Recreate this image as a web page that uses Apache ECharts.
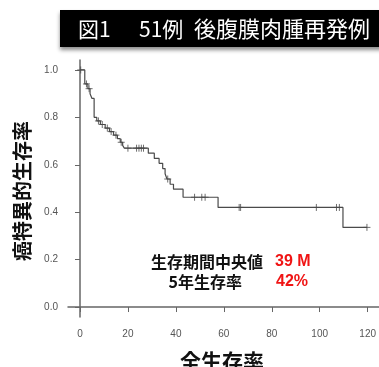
<!DOCTYPE html>
<html>
<head>
<meta charset="utf-8">
<script src="https://cdn.jsdelivr.net/npm/echarts@6/dist/echarts.min.js"></script>
<style>
  html, body { margin: 0; padding: 0; background: #fff; }
  #chart { width: 379px; height: 367px; }
</style>
</head>
<body>
<div id="chart"></div>
<script>
// Kaplan-Meier estimate: event times (months) and survival after each step
const stepTimes = [0, 2.0, 3.3, 4.2, 5.0, 5.9, 7.0, 8.5, 10.5, 12.3, 14.0, 15.6, 16.8, 17.8, 18.5,
  28.5, 31.0, 33.0, 34.5, 35.5, 36.3, 37.6, 39.0, 43.0, 57.6, 109.7, 119.7];
const stepSurv = [1.000, 0.941, 0.921, 0.900, 0.880, 0.800, 0.785, 0.770, 0.755, 0.740, 0.725, 0.710, 0.695, 0.682, 0.670,
  0.649, 0.627, 0.606, 0.584, 0.562, 0.540, 0.518, 0.497, 0.463, 0.420, 0.336, 0.336];

// Censored observations
const censorTimes = [0.3, 2.7, 3.8, 7.7, 9.3, 11.4, 13.0, 15.0, 17.2, 20.0, 23.6, 24.6, 25.6, 26.5,
  36.6, 47.8, 50.8, 52.2, 66.4, 67.0, 98.6, 107.0, 108.2, 119.7];
const censorSurv = [1.000, 0.941, 0.921, 0.785, 0.770, 0.755, 0.740, 0.725, 0.695, 0.670, 0.670, 0.670, 0.670, 0.670,
  0.540, 0.463, 0.463, 0.463, 0.420, 0.420, 0.420, 0.420, 0.420, 0.336];

const xTicks = [0, 20, 40, 60, 80, 100, 120];
const yTicks = [0, 0.2, 0.4, 0.6, 0.8, 1.0];

const titleParts = ['図1', '51例', '後腹膜肉腫再発例'];
const yTitle = '癌特異的生存率';
const xTitle = '全生存率';
const noteLabels = ['生存期間中央値', '5年生存率'];
const noteValues = ['39 M', '42%'];

const jp = '"Noto Sans CJK JP", sans-serif';
const latin = '"Liberation Sans", Arial, sans-serif';
const axisColor = '#666';
const lineColor = '#4a4a4a';

const chart = echarts.init(document.getElementById('chart'), null, { renderer: 'canvas' });

chart.setOption({
  animation: false,
  backgroundColor: '#fff',
  grid: { left: 68, right: 0, top: 60, bottom: 50, containLabel: false },
  xAxis: {
    type: 'value',
    min: -5,
    max: 124.58,
    splitLine: { show: false },
    axisLine: { show: true, lineStyle: { color: axisColor, width: 1.5 } },
    axisTick: { show: true, length: 5, customValues: xTicks, lineStyle: { color: axisColor, width: 1 } },
    axisLabel: { customValues: xTicks, margin: 12, color: '#555', fontSize: 10, fontFamily: latin }
  },
  yAxis: {
    type: 'value',
    min: -0.042,
    max: 1.042,
    splitLine: { show: false },
    axisLine: { show: true, lineStyle: { color: axisColor, width: 1.5 } },
    axisTick: { show: true, length: 5, customValues: yTicks, lineStyle: { color: axisColor, width: 1 } },
    axisLabel: {
      customValues: yTicks, margin: 10, color: '#555', fontSize: 10, fontFamily: latin,
      formatter: v => v.toFixed(1)
    }
  },
  series: [
    {
      type: 'line',
      step: 'end',
      showSymbol: false,
      data: stepTimes.map((t, i) => [t, stepSurv[i]]),
      lineStyle: { color: lineColor, width: 1.2 },
      z: 3
    },
    {
      type: 'scatter',
      data: censorTimes.map((t, i) => [t, censorSurv[i]]),
      symbol: 'path://M0,5L10,5M5,0L5,10',
      symbolSize: [7, 7],
      itemStyle: { color: 'rgba(0,0,0,0)', borderColor: lineColor, borderWidth: 1 },
      z: 4
    }
  ],
  graphic: [
    {
      type: 'rect',
      shape: { x: 60, y: 10, width: 330, height: 37 },
      style: { fill: '#000', shadowBlur: 4, shadowOffsetY: 3, shadowColor: 'rgba(0,0,0,0.45)' },
      z: 10
    },
    { type: 'text', x: 78, y: 29, z: 11,
      style: { text: titleParts[0], fill: '#fff', font: '21px ' + jp, textVerticalAlign: 'middle' } },
    { type: 'text', x: 139, y: 29, z: 11,
      style: { text: titleParts[1], fill: '#fff', font: '21px ' + jp, textVerticalAlign: 'middle' } },
    { type: 'text', x: 194, y: 29, z: 11,
      style: { text: titleParts[2], fill: '#fff', font: '22px ' + jp, textVerticalAlign: 'middle' } },
    { type: 'text', x: 22, y: 191, rotation: Math.PI / 2, z: 11,
      style: { text: yTitle, fill: '#111', font: 'bold 20px ' + jp, textAlign: 'center', textVerticalAlign: 'middle' } },
    { type: 'text', x: 222, y: 361, z: 11,
      style: { text: xTitle, fill: '#111', font: 'bold 21px ' + jp, textAlign: 'center', textVerticalAlign: 'middle' } },
    { type: 'text', x: 263, y: 262, z: 11,
      style: { text: noteLabels[0], fill: '#111', font: 'bold 16px ' + jp, textAlign: 'right', textVerticalAlign: 'middle' } },
    { type: 'text', x: 242, y: 282, z: 11,
      style: { text: noteLabels[1], fill: '#111', font: 'bold 16px ' + jp, textAlign: 'right', textVerticalAlign: 'middle' } },
    { type: 'text', x: 275, y: 262, z: 11,
      style: { text: noteValues[0], fill: '#f01414', font: 'bold 16px ' + latin, textVerticalAlign: 'middle' } },
    { type: 'text', x: 276, y: 282, z: 11,
      style: { text: noteValues[1], fill: '#f01414', font: 'bold 16px ' + latin, textVerticalAlign: 'middle' } }
  ]
});
</script>
</body>
</html>
